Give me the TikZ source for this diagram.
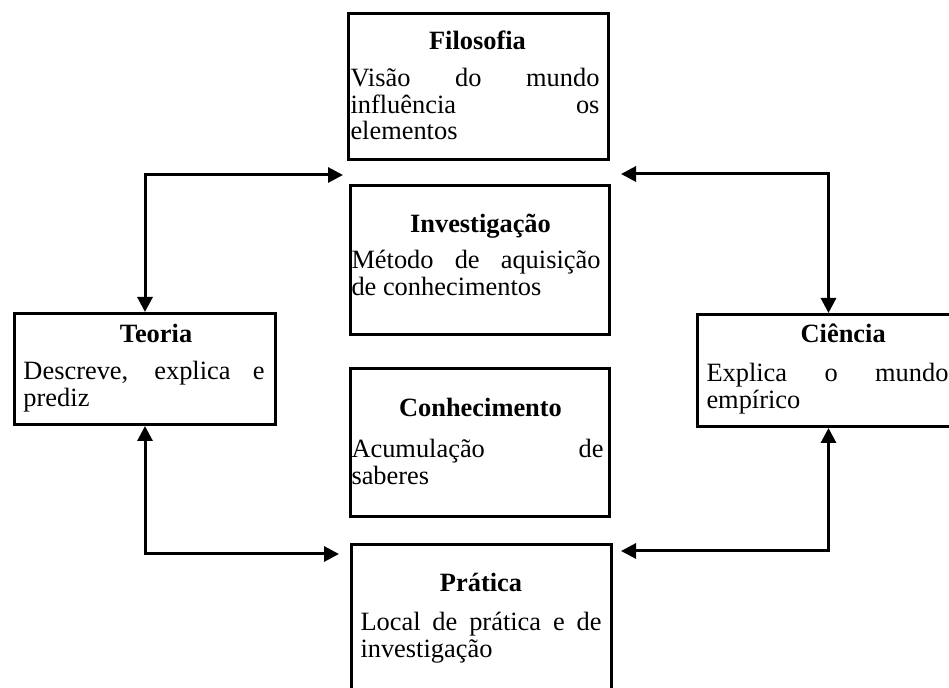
\documentclass[tikz,border=0pt]{standalone}
\usepackage{fontspec}
\setmainfont{Liberation Serif}
\usepackage{tikz}
\usetikzlibrary{arrows.meta}
\newcommand{\cardfont}{\fontsize{13.2pt}{13.4pt}\selectfont\tolerance=10000\hbadness=10000\hyphenpenalty=10000}
\newcommand{\cardhead}[3][0pt]{{\centering\hspace*{#1}\rule{0pt}{#2}\textbf{#3}\par}}

\begin{document}
\begin{tikzpicture}[
    x=0.5pt,y=-0.5pt,
    card/.style={draw,line width=1.5pt,anchor=north west,inner sep=0pt,font=\cardfont},
    link/.style={line width=1.5pt,{Triangle[length=7.5pt,width=7.5pt]}-{Triangle[length=7.5pt,width=7.5pt]}}
  ]
    \useasboundingbox (0,0) rectangle (949,688);

    \node[card] (filo) at (347,12) {\hspace*{1pt}\parbox[c][73pt][t]{124.5pt}{\cardhead[2.5pt]{18pt}{Filosofia}\vspace{5pt}
      Visão do mundo\linebreak influência os\linebreak elementos}\hspace*{4.5pt}};
    \node[card] (inv) at (349,184) {\hspace*{0.5pt}\parbox[c][74.5pt][t]{124.5pt}{\cardhead[4.5pt]{23.5pt}{Investigação}\vspace{4.5pt}
      Método de aquisição\linebreak de conhecimentos}\hspace*{4.5pt}};
    \node[card] (conh) at (349,367) {\hspace*{0.5pt}\parbox[c][74pt][t]{126pt}{\cardhead[3pt]{24pt}{Conhecimento}\vspace{7pt}
      Acumulação de\linebreak saberes}\hspace*{3pt}};
    \node[card] (teoria) at (13,312) {\hspace*{4.5pt}\parbox[c][55.5pt][t]{120.5pt}{\cardhead[12pt]{14.5pt}{Teoria}\vspace{5pt}
      Descreve, explica e\linebreak prediz}\hspace*{5.5pt}};
    \node[card] (ciencia) at (696,313) {\hspace*{4.5pt}\parbox[c][56pt][t]{121pt}{\cardhead[15.7pt]{14pt}{Ciência}\vspace{6pt}
      Explica o mundo\linebreak empírico}\hspace*{5.5pt}};
    \node[card] (prat) at (350,543) {\hspace*{4.5pt}\parbox[c][74.5pt][t]{120.5pt}{\cardhead{23.5pt}{Prática}\vspace{6pt}
      Local de prática e de\linebreak investigação}\hspace*{5pt}};

    \draw[link] (teoria.north) |- ([xshift=-2pt,yshift=-7pt]filo.south west);
    \draw[link] (ciencia.north) |- ([xshift=5.5pt,yshift=-6.5pt]filo.south east);
    \draw[link] (teoria.south) |- ([xshift=-5.5pt,yshift=-5.5pt]prat.north west);
    \draw[link] (ciencia.south) |- ([xshift=4pt,yshift=-4pt]prat.north east);
\end{tikzpicture}
\end{document}
